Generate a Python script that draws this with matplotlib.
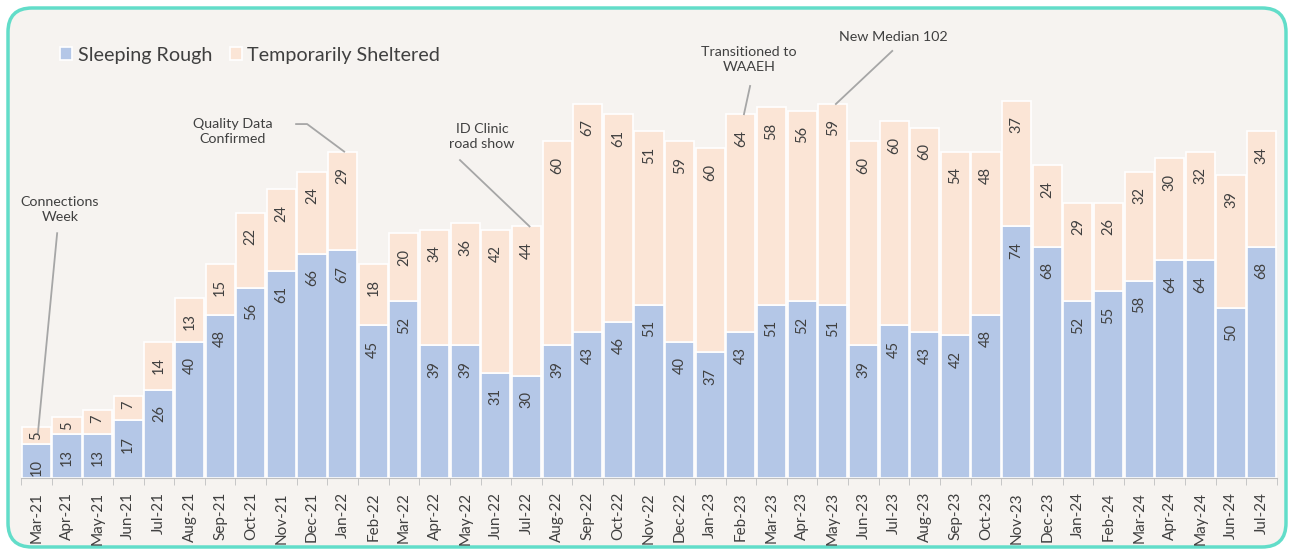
import numpy as np
import matplotlib
matplotlib.use("Agg")
import matplotlib.pyplot as plt
from matplotlib.patches import FancyBboxPatch

plt.rcParams['font.family'] = ['Lato', 'DejaVu Sans']

months = ["Mar-21", "Apr-21", "May-21", "Jun-21", "Jul-21", "Aug-21", "Sep-21", "Oct-21",
          "Nov-21", "Dec-21", "Jan-22", "Feb-22", "Mar-22", "Apr-22", "May-22", "Jun-22",
          "Jul-22", "Aug-22", "Sep-22", "Oct-22", "Nov-22", "Dec-22", "Jan-23", "Feb-23",
          "Mar-23", "Apr-23", "May-23", "Jun-23", "Jul-23", "Aug-23", "Sep-23", "Oct-23",
          "Nov-23", "Dec-23", "Jan-24", "Feb-24", "Mar-24", "Apr-24", "May-24", "Jun-24",
          "Jul-24"]
rough = [10, 13, 13, 17, 26, 40, 48, 56, 61, 66, 67, 45, 52, 39, 39, 31, 30, 39, 43, 46,
         51, 40, 37, 43, 51, 52, 51, 39, 45, 43, 42, 48, 74, 68, 52, 55, 58, 64, 64, 50, 68]
sheltered = [5, 5, 7, 7, 14, 13, 15, 22, 24, 24, 29, 18, 20, 34, 36, 42, 44, 60, 67, 61,
             51, 59, 60, 64, 58, 56, 59, 60, 60, 60, 54, 48, 37, 24, 29, 26, 32, 30, 32, 39, 34]

blue = "#B4C7E7"
peach = "#FBE5D6"
txt = "#404040"
bg = "#F6F3F0"

fig = plt.figure(figsize=(12.93, 5.54), dpi=100, facecolor="white")

# rounded frame drawn on a background axes in pixel units
bgax = fig.add_axes([0, 0, 1, 1], zorder=-5)
bgax.set_xlim(0, 1293)
bgax.set_ylim(0, 554)
bgax.axis("off")
bgax.add_patch(FancyBboxPatch((8, 7), 1278, 539, boxstyle="round,pad=0,rounding_size=24",
                              facecolor=bg, edgecolor="#62DDC9", linewidth=2.5))

ax = fig.add_axes([21 / 1293, 1 - 478 / 554, 1256 / 1293, 442 / 554])
ax.set_facecolor("none")

x = np.arange(len(months))
b1 = ax.bar(x, rough, width=0.95, color=blue, edgecolor="white", linewidth=1.2)
b2 = ax.bar(x, sheltered, bottom=rough, width=0.95, color=peach, edgecolor="white", linewidth=1.2)

# data labels, "inside end" like excel (rotated)
tops_r = np.array(rough)
tops_s = np.array(rough) + np.array(sheltered)
for vals, tops in [(rough, tops_r), (sheltered, tops_s)]:
    for i, (v, t) in enumerate(zip(vals, tops)):
        off = -8.5 if v < 10 else -24
        ax.annotate(str(v), (i, t), xytext=(0, off), textcoords="offset pixels",
                    rotation=90, ha="center", va="center", fontsize=10.5, color=txt)

ax.set_xlim(-0.5, len(months) - 0.5)
ax.set_ylim(0, 130)
ax.set_xticks(x)
ax.set_xticklabels(months, rotation=90, fontsize=11, color=txt)
ax.set_xticks(np.arange(len(months) + 1) - 0.5, minor=True)
ax.tick_params(axis="x", which="major", length=0, pad=10)
ax.tick_params(axis="x", which="minor", length=5, color="#BFBFBF")
ax.set_yticks([])
for s in ["top", "right", "left"]:
    ax.spines[s].set_visible(False)
ax.spines["bottom"].set_color("#BFBFBF")

leg = fig.legend([b1, b2], ["Sleeping Rough", "Temporarily Sheltered"], loc="center left",
                 bbox_to_anchor=(50 / 1293, 1 - 55 / 554), ncol=2, frameon=False, fontsize=14.2,
                 borderpad=0, handlelength=0.6, handleheight=0.6, handletextpad=0.3,
                 columnspacing=0.9)
for t in leg.get_texts():
    t.set_color(txt)

ann_kw = dict(fontsize=10.3, color=txt, ha="center", va="center", linespacing=1.3)
line_kw = dict(color="#A6A6A6", linewidth=1.3)

ax.text(0.77, 79, "Connections\nWeek", **ann_kw)
ax.plot([0.68, 0.05], [72, 13], **line_kw)

ax.text(6.42, 102, "Quality Data\nConfirmed", **ann_kw)
ax.plot([8.48, 8.84, 10.05], [104.1, 104.1, 96], **line_kw)

ax.text(14.55, 100.3, "ID Clinic\nroad show", **ann_kw)
ax.plot([13.83, 16.1], [93.5, 74], **line_kw)

ax.text(23.27, 123.2, "Transitioned to\nWAAEH", **ann_kw)
ax.plot([23.3, 23.1], [115.3, 107], **line_kw)

ax.text(27.97, 129.7, "New Median 102", clip_on=False, **ann_kw)
ax.plot([27.94, 26.1], [125.6, 110], clip_on=False, **line_kw)

fig.savefig("out.png", dpi=100, facecolor=fig.get_facecolor())
